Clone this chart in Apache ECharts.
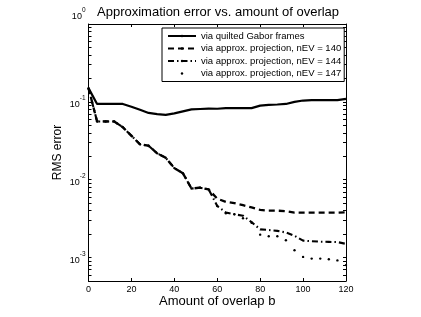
<!DOCTYPE html>
<html><head><meta charset="utf-8">
<script src="https://cdn.jsdelivr.net/npm/echarts@6/dist/echarts.min.js"></script>
<style>html,body{margin:0;padding:0;background:#fff}#c{width:421px;height:317px}</style>
</head><body><div id="c"></div>
<script>
const overlapB = [0,4,8,12,16,20,24,28,32,36,40,44,48,52,56,60,64,68,72,76,80,84,88,92,96,100,104,108,112,116,120];
const quiltedErr = [0.15,0.094,0.094,0.094,0.094,0.0866,0.079,0.072,0.0697,0.068,0.071,0.0755,0.080,0.081,0.082,0.0815,0.083,0.083,0.083,0.083,0.0895,0.0915,0.0925,0.094,0.100,0.104,0.105,0.105,0.105,0.105,0.109];
// b = 0..56: the three approximate-projection curves coincide
const sharedErr = [0.15,0.056,0.056,0.056,0.0472,0.0367,0.0285,0.0273,0.0218,0.0191,0.0141,0.0121,0.0077,0.0079,0.0075];
// b = 60..120
const tail140 = [0.0057,0.0052,0.0050,0.0047,0.0044,0.0041,0.0040,0.0040,0.00395,0.00378,0.00377,0.00377,0.00377,0.00377,0.00377,0.0038];
const tail144 = [0.0046,0.0038,0.0036,0.00345,0.00285,0.0023,0.00226,0.0022,0.0021,0.0019,0.00165,0.00162,0.0016,0.00159,0.00158,0.0015];
const tail147 = [0.0046,0.0037,0.0036,0.0032,0.0028,0.00197,0.00188,0.00188,0.00167,0.00124,0.00102,0.00097,0.00097,0.00095,0.00092,0.0008];
const seriesNames = ['via quilted Gabor frames','via approx. projection, nEV = 140','via approx. projection, nEV = 144','via approx. projection, nEV = 147'];
const xTicks = [0,20,40,60,80,100,120];
const yDecades = [0.001,0.01,0.1,1];
const yMin = 0.0005, yMax = 1;

const yTickVals = [];
[0.0001,0.001,0.01,0.1,1].forEach(d => { for (let k = 1; k <= 9; k++) { const v = +(d*k).toPrecision(6); if (v >= yMin && v <= yMax) yTickVals.push(v); } });

const pairs = arr => overlapB.map((b,i) => [b, arr[i]]);
const err140 = sharedErr.concat(tail140);
const err144 = sharedErr.concat(tail144);
const err147 = sharedErr.concat(tail147);

const FONT = 'Liberation Sans, Arial, Helvetica, sans-serif';
const chart = echarts.init(document.getElementById('c'), null, {renderer:'canvas'});

function yFmt(v){
  const l = Math.log10(v), e = Math.round(l);
  if (Math.abs(l - e) > 1e-6) return '';
  if (e === 0) return '{b|10}{s|0}\n{g| }';
  return '{b|10}{s|' + e + '}';
}

const xBase = {type:'value', min:0, max:120, interval:20,
  axisLine:{show:true, onZero:false, lineStyle:{color:'#000', width:1}},
  axisTick:{show:true, inside:true, length:3, lineStyle:{color:'#000'}},
  splitLine:{show:false}};
const yBase = {type:'log', logBase:10, min:yMin, max:yMax,
  axisLine:{show:true, onZero:false, lineStyle:{color:'#000', width:1}},
  axisTick:{show:true, inside:true, length:3, customValues:yTickVals, lineStyle:{color:'#000'}},
  minorTick:{show:false}, splitLine:{show:false}};

chart.setOption({
  animation:false,
  backgroundColor:'#fff',
  textStyle:{fontFamily:FONT},
  title:{text:'Approximation error vs. amount of overlap', left:97, top:6, padding:0,
    textStyle:{fontFamily:FONT, fontSize:13, fontWeight:'normal', color:'#000'}},
  grid:{left:88.5, right:75, top:24, bottom:36, containLabel:false},
  xAxis:[
    Object.assign({}, xBase, {position:'bottom', name:'Amount of overlap b', nameLocation:'middle', nameGap:14,
      nameMoveOverlap:false,
      nameTextStyle:{fontFamily:FONT, fontSize:13, color:'#000'},
      axisLabel:{show:true, margin:4, fontSize:9, color:'#000', fontFamily:FONT, customValues:xTicks}}),
    Object.assign({}, xBase, {position:'top', axisLabel:{show:false}})
  ],
  yAxis:[
    Object.assign({}, yBase, {position:'left', name:'RMS error', nameLocation:'middle', nameGap:25,
      nameMoveOverlap:false,
      nameTextStyle:{fontFamily:FONT, fontSize:12, color:'#000'},
      axisLabel:{show:true, margin:3, color:'#000', fontFamily:FONT, customValues:yDecades, formatter:yFmt,
        rich:{b:{fontSize:9, lineHeight:14, verticalAlign:'bottom', fontFamily:FONT, color:'#000'},
              s:{fontSize:6.5, lineHeight:14, verticalAlign:'top', fontFamily:FONT, color:'#000'},
              g:{fontSize:6, lineHeight:20}}}}),
    Object.assign({}, yBase, {position:'right', axisLabel:{show:false}})
  ],
  legend:{
    data:seriesNames, orient:'vertical', left:162, top:28,
    padding:[2,3,2,5], itemGap:0.5, itemWidth:28, itemHeight:3,
    backgroundColor:'#fff', borderColor:'#000', borderWidth:1,
    textStyle:{fontFamily:FONT, fontSize:9.5, color:'#000', lineHeight:12}
  },
  series:[
    {name:seriesNames[0], type:'line', data:pairs(quiltedErr), symbol:'none',
      lineStyle:{color:'#000', width:2.2}, itemStyle:{color:'#000'}},
    {name:seriesNames[1], type:'line', data:pairs(err140), symbol:'none',
      lineStyle:{color:'#000', width:2.3, type:[6,4]}, itemStyle:{color:'#000'}},
    {name:seriesNames[2], type:'line', data:pairs(err144), symbol:'none',
      lineStyle:{color:'#000', width:2.1, type:[6,3,1.5,3]}, itemStyle:{color:'#000'}},
    {name:seriesNames[3], type:'line', data:pairs(err147), symbol:'circle', symbolSize:2.4,
      showSymbol:true, showAllSymbol:true,
      lineStyle:{color:'#000', width:0}, itemStyle:{color:'#000', borderWidth:0}}
  ]
});
</script></body></html>
